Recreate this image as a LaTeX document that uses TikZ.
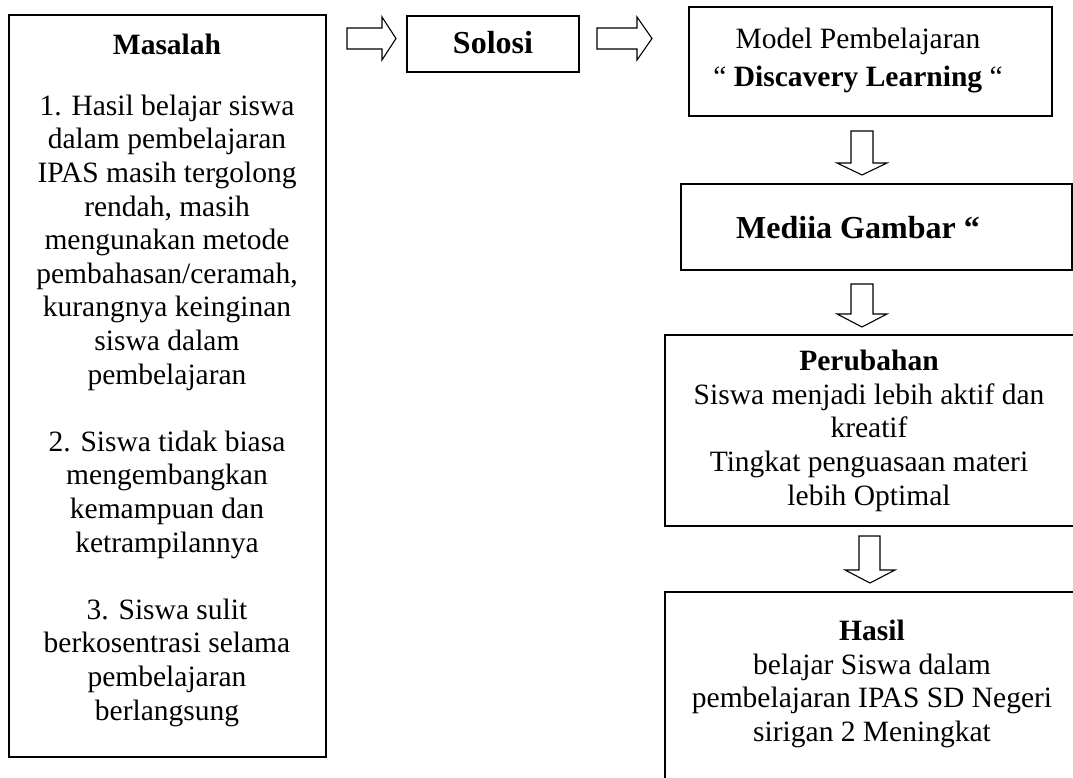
\documentclass[tikz,border=0pt]{standalone}
\usepackage{fontspec}
\setmainfont{Liberation Serif}
\begin{document}
\begin{tikzpicture}[x=1pt,y=-1pt,
  box/.style={draw=black,line width=1.6pt},
  blockarrow/.style={draw=black,line width=1.1pt,fill=white,line join=miter},
  body/.style={inner sep=0pt,align=center,font=\fontsize{29.5}{33.6}\selectfont},
  headbig/.style={inner sep=0pt,align=center,font=\fontsize{32}{38}\selectfont\bfseries}]
\useasboundingbox (0,0) rectangle (1073,778);
% boxes
\draw[box] (9,15) rectangle (326,757);
\draw[box] (407,16) rectangle (579,72);
\draw[box] (689,7) rectangle (1052,116);
\draw[box] (681,184) rectangle (1072,270);
\draw[box] (665,335) rectangle (1090,526);
\draw[box] (665,592) rectangle (1090,820);
% texts
\node[body,anchor=north] (masalahT) at (167,34) {\textbf{Masalah}\\[27pt]
1. Hasil belajar siswa\\ dalam pembelajaran\\ IPAS masih tergolong\\ rendah, masih\\ mengunakan metode\\ pembahasan/ceramah,\\ kurangnya keinginan\\ siswa dalam\\ pembelajaran\\[33.6pt]
2. Siswa tidak biasa\\ mengembangkan\\ kemampuan dan\\ ketrampilannya\\[33.6pt]
3. Siswa sulit\\ berkosentrasi selama\\ pembelajaran\\ berlangsung};
\node[headbig] (solosiT) at (493,43) {Solosi};
\node[body,anchor=north,font=\fontsize{29.5}{38}\selectfont] (modelT) at (858,28) {Model Pembelajaran\\ “ \textbf{Discavery Learning} “};
\node[headbig] (mediaT) at (858,228) {Mediia Gambar “};
\node[body,anchor=north] (perubahanT) at (869,350) {\textbf{Perubahan}\\ Siswa menjadi lebih aktif dan\\ kreatif\\ Tingkat penguasaan materi\\ lebih Optimal};
\node[body,anchor=north] (hasilT) at (872,620) {\textbf{Hasil}\\ belajar Siswa dalam\\ pembelajaran IPAS SD Negeri\\ sirigan 2 Meningkat};
% block arrows (horizontal)
\draw[blockarrow] (347,28) -- (382,28) -- (382,17) -- (396,38.5) -- (382,60) -- (382,49) -- (347,49) -- cycle;
\draw[blockarrow] (597,28) -- (637,28) -- (637,17) -- (652,38.5) -- (637,60) -- (637,49) -- (597,49) -- cycle;
% block arrows (vertical)
\draw[blockarrow] (851,131) -- (851,163) -- (837,163) -- (862,175) -- (887,163) -- (873,163) -- (873,131) -- cycle;
\draw[blockarrow] (851,284) -- (851,314) -- (837,314) -- (862,327) -- (887,314) -- (873,314) -- (873,284) -- cycle;
\draw[blockarrow] (859,536) -- (859,570) -- (845,570) -- (870,583) -- (895,570) -- (880,570) -- (880,536) -- cycle;
\end{tikzpicture}
\end{document}
